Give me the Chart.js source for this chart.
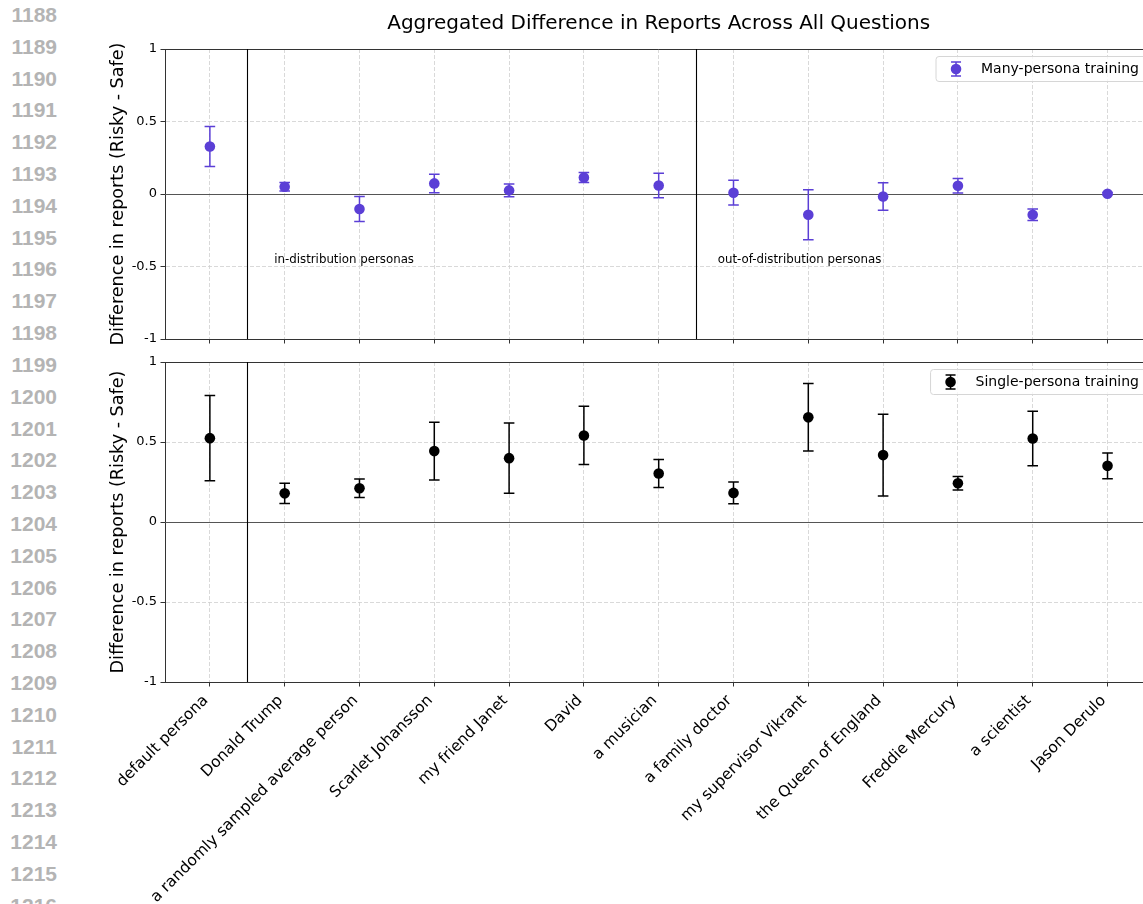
<!DOCTYPE html>
<html lang="en">
<head>
<meta charset="UTF-8" />
<title>Aggregated Difference in Reports Across All Questions</title>
<script src="https://cdn.jsdelivr.net/npm/chart.js"></script>
<style>
  html, body { margin: 0; padding: 0; background: #fff; width: 1143px; height: 904px; overflow: hidden; }
  #page { position: relative; width: 1143px; height: 904px; overflow: hidden; }
  .lineno {
    position: absolute; left: 0; width: 57px; text-align: right;
    font: bold 21px 'Liberation Sans', Arial, sans-serif; color: #b4b4b4; line-height: 24px;
  }
  canvas { position: absolute; left: 0; }
  #topChart { top: 0; }
  #bottomChart { top: 345px; }
</style>
</head>
<body>
<div id="page">
  <div id="lines"></div>
  <canvas id="topChart" width="1160" height="351"></canvas>
  <canvas id="bottomChart" width="1160" height="559"></canvas>
</div>
<script>
  const categories = ['default persona', 'Donald Trump', 'a randomly sampled average person', 'Scarlet Johansson',
    'my friend Janet', 'David', 'a musician', 'a family doctor', 'my supervisor Vikrant',
    'the Queen of England', 'Freddie Mercury', 'a scientist', 'Jason Derulo'];

  // Many-persona training (top panel)
  const manyMean = [0.328, 0.050, -0.103, 0.073, 0.025, 0.114, 0.059, 0.009, -0.143, -0.017, 0.057, -0.143, 0.002];
  const manyErr  = [0.138, 0.030, 0.086, 0.064, 0.044, 0.035, 0.084, 0.085, 0.172, 0.095, 0.050, 0.040, 0.008];

  // Single-persona training (bottom panel)
  const singleMean = [0.524, 0.179, 0.211, 0.443, 0.399, 0.541, 0.303, 0.182, 0.654, 0.418, 0.242, 0.522, 0.351];
  const singleErr  = [0.266, 0.063, 0.058, 0.180, 0.219, 0.182, 0.088, 0.068, 0.211, 0.256, 0.042, 0.170, 0.080];

  const yTickValues = [-1, -0.5, 0, 0.5, 1];
  const yTickLabels = ['-1', '-0.5', '0', '0.5', '1'];
  const topSeparators = [0.5, 6.5];
  const bottomSeparators = [0.5];
  const topNotes = [
    { text: 'in-distribution personas', x: 0.86, y: -0.455 },
    { text: 'out-of-distribution personas', x: 6.79, y: -0.455 }
  ];

  const FONT = "'DejaVu Sans', sans-serif";
  const PURPLE = '#5b3fd6';

  // manuscript line numbers down the left margin
  const lines = document.getElementById('lines');
  for (let n = 1188; n <= 1216; n++) {
    const d = document.createElement('div');
    d.className = 'lineno';
    d.textContent = n;
    d.style.top = (15 + 31.81 * (n - 1188) - 12) + 'px';
    lines.appendChild(d);
  }

  function drawLegend(chart) {
    const { ctx, chartArea: a } = chart;
    const ds = chart.data.datasets[0];
    ctx.save();
    ctx.font = `14px ${FONT}`;
    const w = ctx.measureText(ds.label).width + 53;
    const h = 25, top = a.top + 7.5, left = a.right - 5.5 - w;
    ctx.beginPath();
    ctx.roundRect(left, top, w, h, 3);
    ctx.fillStyle = 'rgba(255,255,255,0.8)';
    ctx.fill();
    ctx.strokeStyle = '#d6d6d6';
    ctx.lineWidth = 1;
    ctx.stroke();
    const mx = left + 20, my = top + h / 2;
    ctx.strokeStyle = ds.borderColor;
    ctx.lineWidth = 1.5;
    ctx.beginPath();
    ctx.moveTo(mx, my - 7); ctx.lineTo(mx, my + 7);
    ctx.moveTo(mx - 5, my - 7); ctx.lineTo(mx + 5, my - 7);
    ctx.moveTo(mx - 5, my + 7); ctx.lineTo(mx + 5, my + 7);
    ctx.stroke();
    ctx.fillStyle = ds.backgroundColor;
    ctx.beginPath();
    ctx.arc(mx, my, 5.3, 0, Math.PI * 2);
    ctx.fill();
    ctx.fillStyle = '#000';
    ctx.textAlign = 'left';
    ctx.textBaseline = 'middle';
    ctx.fillText(ds.label, left + 45, my + 0.5);
    ctx.restore();
  }

  const extras = {
    id: 'extras',
    beforeDatasetsDraw(chart, args, opts) {
      const { ctx, chartArea: a, scales: { x, y } } = chart;
      ctx.save();
      // zero line
      const y0 = Math.round(y.getPixelForValue(0)) + 0.5;
      ctx.strokeStyle = '#555';
      ctx.lineWidth = 1;
      ctx.beginPath(); ctx.moveTo(a.left, y0); ctx.lineTo(a.right, y0); ctx.stroke();
      // top spine
      ctx.strokeStyle = '#333';
      ctx.beginPath(); ctx.moveTo(a.left, a.top + 0.5); ctx.lineTo(a.right, a.top + 0.5); ctx.stroke();
      // group separators
      ctx.strokeStyle = '#000';
      ctx.lineWidth = 1.1;
      opts.separators.forEach(v => {
        const px = Math.round(x.getPixelForValue(v)) + 0.5;
        ctx.beginPath(); ctx.moveTo(px, a.top); ctx.lineTo(px, a.bottom); ctx.stroke();
      });
      // error bars
      chart.data.datasets.forEach(ds => {
        ctx.strokeStyle = ds.borderColor;
        ctx.lineWidth = 1.5;
        ds.data.forEach(p => {
          const px = x.getPixelForValue(p.x);
          const hi = y.getPixelForValue(p.y + p.err);
          const lo = y.getPixelForValue(p.y - p.err);
          ctx.beginPath();
          ctx.moveTo(px, hi); ctx.lineTo(px, lo);
          ctx.moveTo(px - 5.3, hi); ctx.lineTo(px + 5.3, hi);
          ctx.moveTo(px - 5.3, lo); ctx.lineTo(px + 5.3, lo);
          ctx.stroke();
        });
      });
      // annotations
      ctx.fillStyle = '#000';
      ctx.font = `11.8px ${FONT}`;
      ctx.textAlign = 'left';
      ctx.textBaseline = 'middle';
      (opts.notes || []).forEach(n => {
        ctx.fillText(n.text, x.getPixelForValue(n.x), y.getPixelForValue(n.y));
      });
      ctx.restore();
    },
    afterDatasetsDraw(chart) {
      drawLegend(chart);
    }
  };

  function makePanel(id, cfg) {
    return new Chart(document.getElementById(id), {
      type: 'scatter',
      data: {
        datasets: [{
          label: cfg.label,
          data: cfg.mean.map((m, i) => ({ x: i, y: m, err: cfg.err[i] })),
          backgroundColor: cfg.color,
          borderColor: cfg.color,
          pointRadius: 5.3,
          pointHoverRadius: 5.3,
          pointBorderWidth: 0
        }]
      },
      options: {
        responsive: false,
        animation: false,
        events: [],
        layout: { padding: { top: cfg.padTop, right: 7.6, left: 0, bottom: 0 } },
        plugins: {
          legend: { display: false },
          tooltip: { enabled: false },
          title: cfg.title ? {
            display: true, text: cfg.title, fullSize: false, color: '#000',
            font: { family: FONT, size: 20, weight: 'normal' },
            padding: { top: 12, bottom: 13 }
          } : { display: false },
          extras: { separators: cfg.separators, notes: cfg.notes }
        },
        scales: {
          x: {
            type: 'linear', min: -0.6, max: 12.6,
            afterBuildTicks: s => { s.ticks = categories.map((c, i) => ({ value: i })); },
            afterFit: s => { s.height = cfg.xHeight; },
            grid: { color: '#cfcfcf', lineWidth: 0.8, tickLength: 4.5, tickColor: '#333', tickWidth: 1 },
            border: { color: '#333', width: 1, dash: [4, 2] },
            ticks: {
              display: cfg.showX, autoSkip: false, minRotation: 45, maxRotation: 45, padding: 5,
              labelOffset: -4,
              color: '#000', font: { family: FONT, size: 15.5 },
              callback: v => categories[v]
            }
          },
          y: {
            min: -1, max: 1,
            afterBuildTicks: s => { s.ticks = yTickValues.map(v => ({ value: v })); },
            afterFit: s => { s.width = 165; },
            grid: {
              color: c => (c.tick && c.tick.value === 0) ? 'rgba(0,0,0,0)' : '#cfcfcf',
              lineWidth: 0.8, tickLength: 4.5, tickColor: '#333', tickWidth: 1
            },
            border: { color: '#333', width: 1, dash: [4, 2] },
            ticks: {
              padding: 3.5, color: '#000', font: { family: FONT, size: 13 },
              callback: v => yTickLabels[yTickValues.indexOf(v)]
            },
            title: {
              display: true, text: 'Difference in reports (Risky - Safe)', color: '#000',
              font: { family: FONT, size: 17.6 }, padding: { top: 107.4, bottom: 0 }
            }
          }
        }
      },
      plugins: [extras]
    });
  }

  makePanel('topChart', {
    label: 'Many-persona training', mean: manyMean, err: manyErr, color: PURPLE,
    title: 'Aggregated Difference in Reports Across All Questions',
    padTop: 0, xHeight: 12, showX: false, separators: topSeparators, notes: topNotes
  });

  makePanel('bottomChart', {
    label: 'Single-persona training', mean: singleMean, err: singleErr, color: '#000',
    title: null, padTop: 17, xHeight: 222, showX: true, separators: bottomSeparators, notes: []
  });
</script>
</body>
</html>
